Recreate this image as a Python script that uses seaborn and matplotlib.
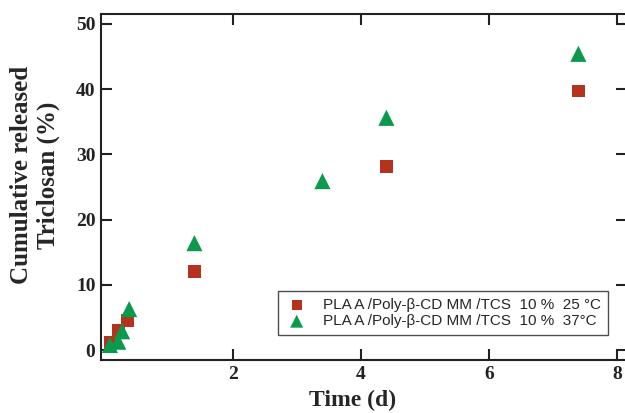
import matplotlib
matplotlib.use("Agg")
import matplotlib.pyplot as plt
import seaborn as sns
import pandas as pd

# Data
t_25 = [0.08, 0.21, 0.35, 1.4, 4.4, 7.4]
rel_25 = [1.2, 3.0, 4.5, 12.0, 28.1, 39.7]
t_37 = [0.08, 0.21, 0.27, 0.38, 1.4, 3.4, 4.4, 7.4]
rel_37 = [0.8, 1.3, 2.9, 6.3, 16.4, 25.9, 35.6, 45.4]
lab_25 = "PLA A /Poly-\u03b2-CD MM /TCS  10 %  25 \u00b0C"
lab_37 = "PLA A /Poly-\u03b2-CD MM /TCS  10 %  37\u00b0C"
x_ticks = [2, 4, 6, 8]
y_ticks = [0, 10, 20, 30, 40, 50]

df = pd.DataFrame({
    "t": t_25 + t_37,
    "r": rel_25 + rel_37,
    "s": [lab_25] * len(t_25) + [lab_37] * len(t_37),
})

sns.set_style("ticks")
plt.rcParams["font.family"] = ["Liberation Serif", "DejaVu Serif"]

fig = plt.figure(figsize=(6.25, 4.13), dpi=100)
W, H = 625, 413
ax = fig.add_axes([101 / W, (H - 360) / H, (627 - 101) / W, (360 - 14) / H])

red = "#b5321f"
green = "#0b9a4d"
sns.scatterplot(data=df[df.s == lab_25], x="t", y="r", marker="s", s=85,
                color=red, edgecolor="none", label=lab_25, ax=ax, zorder=3)
sns.scatterplot(data=df[df.s == lab_37], x="t", y="r", marker="^", s=135,
                color=green, edgecolor="none", label=lab_37, ax=ax, zorder=4)

ax.set_xlim(-0.06, 8.16)
ax.set_ylim(-1.5, 51.5)
ax.set_xticks(x_ticks)
ax.set_yticks(y_ticks)
ax.tick_params(direction="in", length=8, width=1.5, top=True, right=True,
               labelsize=14, pad=4, colors="#222222")
for lab in ax.get_xticklabels() + ax.get_yticklabels():
    lab.set_fontweight("bold")
    lab.set_fontfamily(["Liberation Serif"])
for sp in ax.spines.values():
    sp.set_visible(True)
    sp.set_linewidth(1.5)
    sp.set_color("#222222")

ax.set_xlabel("Time (d)", fontsize=17, fontweight="bold", labelpad=5)
ax.xaxis.label.set_x((353 - 101) / 526)
ax.set_ylabel("")
fig.text(35 / W, 1 - 175 / H, "Cumulative released\nTriclosan (%)",
         rotation=90, ha="center", va="center", multialignment="center",
         fontsize=18, fontweight="bold", linespacing=1.25)

leg = ax.legend(loc="lower right", bbox_to_anchor=(0.963, 0.072),
                borderaxespad=0, frameon=True, fancybox=False,
                prop={"family": ["Liberation Sans", "DejaVu Sans"], "size": 11},
                handletextpad=0.9, borderpad=0.45, labelspacing=0.15,
                handlelength=1.6, markerscale=0.8)
leg.get_frame().set_edgecolor("#222222")
leg.get_frame().set_linewidth(1.0)

fig.savefig("out.png", dpi=100)
